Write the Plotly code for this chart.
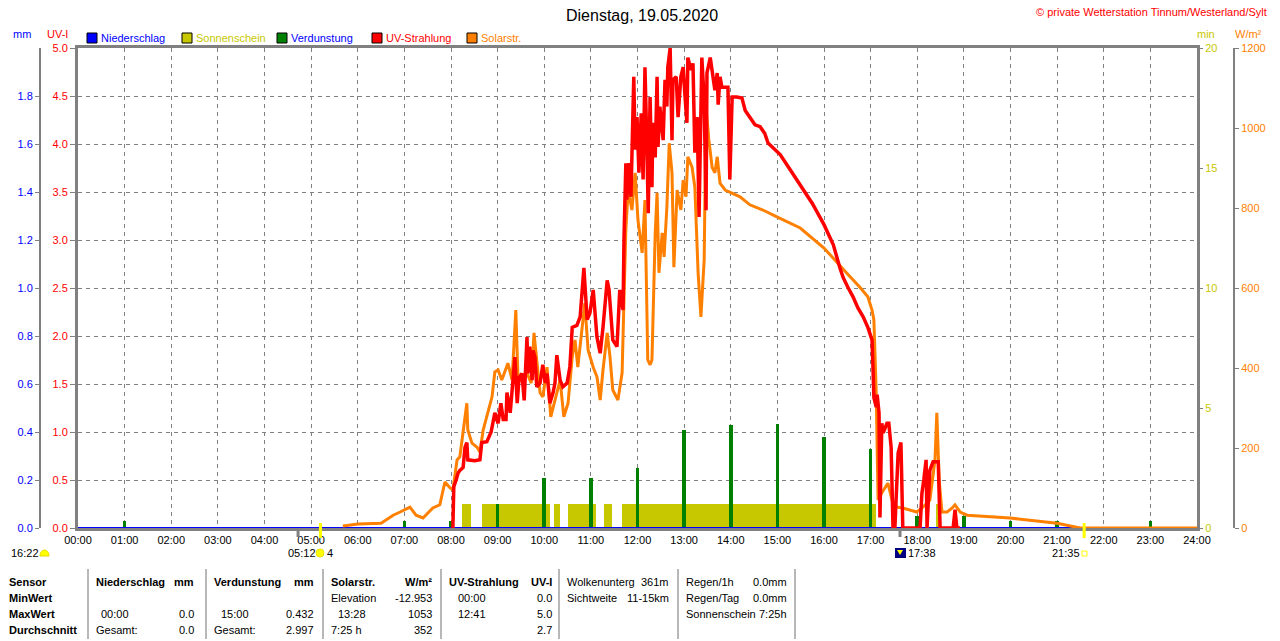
import plotly.graph_objects as go

W, H = 1280, 641
def px(x): return x / W
def py(y): return 1 - y / H

# ---------------- data ----------------
hours = list(range(25))
hour_labels = [f"{h:02d}:00" for h in hours]

uv_ticks = [0.0, 0.5, 1.0, 1.5, 2.0, 2.5, 3.0, 3.5, 4.0, 4.5, 5.0]
mm_ticks = [0.0, 0.2, 0.4, 0.6, 0.8, 1.0, 1.2, 1.4, 1.6, 1.8]
min_ticks = [0, 5, 10, 15, 20]
wm2_ticks = [0, 200, 400, 600, 800, 1000, 1200]

# UV-Strahlung (UV-I), time in hours
uv_t = [8.04, 8.06, 8.11, 8.15, 8.19, 8.26, 8.30, 8.34, 8.36, 8.51, 8.62, 8.66, 8.77, 8.86, 8.94,
        9.01, 9.07, 9.12, 9.18, 9.20, 9.27, 9.33, 9.37, 9.42, 9.46, 9.52, 9.57, 9.63, 9.65, 9.69,
        9.74, 9.76, 9.80, 9.84, 9.91, 9.97, 10.02, 10.06, 10.12, 10.19, 10.23, 10.27, 10.34, 10.40,
        10.49, 10.55, 10.60, 10.70, 10.77, 10.83, 10.85, 10.92, 10.98, 11.05, 11.13, 11.20, 11.26,
        11.35, 11.39, 11.47, 11.56, 11.62, 11.69, 11.71, 11.73, 11.75, 11.77, 11.82, 11.86, 11.90,
        11.92, 11.95, 11.99, 12.03, 12.08, 12.12, 12.16, 12.20, 12.23, 12.27, 12.31, 12.33, 12.38,
        12.42, 12.44, 12.48, 12.55, 12.59, 12.63, 12.65, 12.70, 12.74, 12.76, 12.83, 12.87, 12.93,
        12.98, 13.02, 13.06, 13.08, 13.15, 13.19, 13.23, 13.28, 13.32, 13.38, 13.43, 13.47, 13.49,
        13.56, 13.62, 13.66, 13.71, 13.73, 13.77, 13.81, 13.88, 13.94, 13.98, 14.03, 14.13, 14.24,
        14.31, 14.41, 14.52, 14.63, 14.73, 14.80, 14.95, 15.06, 15.25, 15.49, 15.75, 16.00, 16.20,
        16.34, 16.41, 16.52, 16.62, 16.73, 16.84, 16.94, 17.03, 17.05, 17.07, 17.12, 17.14, 17.18,
        17.20, 17.24, 17.27, 17.35, 17.39, 17.44, 17.48, 17.52, 17.59, 17.65, 17.69, 18.06, 18.10,
        18.14, 18.19, 18.21, 18.27, 18.34, 18.38, 18.45, 18.49, 18.77, 18.81, 18.85, 18.92]
uv_v = [0.0, 0.43, 0.50, 0.57, 0.60, 0.63, 0.84, 0.89, 0.71, 0.70, 0.71, 0.89, 0.90, 1.00, 1.20,
        1.09, 1.30, 1.13, 1.13, 1.41, 1.20, 1.54, 1.78, 1.30, 1.57, 1.61, 1.33, 1.99, 1.61, 1.89,
        1.54, 1.85, 1.78, 1.47, 1.51, 1.70, 1.51, 1.61, 1.30, 1.41, 1.51, 1.80, 1.54, 1.47,
        1.51, 1.68, 2.09, 2.11, 2.20, 2.58, 2.71, 2.17, 2.24, 2.48, 1.99, 1.82, 2.09,
        2.58, 2.48, 1.96, 1.89, 2.48, 2.27, 3.00, 3.63, 3.80, 3.42, 3.80, 3.45, 4.28,
        4.70, 3.94, 4.28, 3.70, 4.32, 3.63, 4.80, 4.01, 3.28, 4.49, 3.55, 4.22, 3.86,
        4.70, 3.97, 4.39, 4.04, 4.67, 4.39, 4.80, 5.00, 4.04, 4.67, 4.70, 4.28, 4.70,
        4.80, 4.49, 4.22, 4.90, 4.77, 4.84, 3.91, 4.28, 3.24, 4.90, 4.46, 3.31, 4.74,
        4.90, 4.70, 4.56, 4.74, 4.41, 4.70, 4.59, 4.59, 4.59, 3.63, 4.49, 4.49, 4.48,
        4.35, 4.28, 4.20, 4.18, 4.11, 4.01, 3.94, 3.89, 3.75, 3.57, 3.38, 3.16, 2.95,
        2.71, 2.61, 2.50, 2.41, 2.29, 2.20, 2.09, 1.96, 1.68, 1.36, 1.26, 1.39, 1.20,
        0.11, 1.09, 0.99, 1.09, 1.09, 0.84, 0.0, 0.0, 0.78, 0.89, 0.0, 0.0, 0.36,
        0.50, 0.71, 0.0, 0.60, 0.69, 0.69, 0.69, 0.0, 0.0, 0.19, 0.0, 0.0]

# Solarstrahlung (W/m²)
solar_t = [5.68, 6.01, 6.50, 6.76, 6.91, 6.99, 7.12, 7.25, 7.40, 7.61, 7.76, 7.87, 7.98, 8.04, 8.13,
           8.19, 8.26, 8.34, 8.36, 8.45, 8.56, 8.62, 8.69, 8.77, 8.88, 8.94, 9.01, 9.09, 9.16, 9.22,
           9.31, 9.39, 9.44, 9.52, 9.63, 9.72, 9.78, 9.84, 9.91, 9.97, 10.06, 10.14, 10.23, 10.34,
           10.42, 10.51, 10.60, 10.66, 10.72, 10.81, 10.87, 10.94, 11.05, 11.13, 11.20, 11.26, 11.35,
           11.41, 11.47, 11.58, 11.67, 11.71, 11.75, 11.80, 11.88, 11.95, 12.01, 12.10, 12.16, 12.22,
           12.27, 12.31, 12.38, 12.42, 12.46, 12.53, 12.57, 12.63, 12.68, 12.74, 12.78, 12.85, 12.93,
           12.98, 13.04, 13.08, 13.17, 13.23, 13.30, 13.36, 13.43, 13.47, 13.53, 13.60, 13.66, 13.71,
           13.77, 13.88, 13.98, 14.20, 14.41, 14.69, 14.99, 15.49, 16.00, 16.34, 16.56, 16.77, 16.94,
           17.03, 17.07, 17.12, 17.14, 17.16, 17.24, 17.31, 17.37, 17.46, 17.57, 17.69, 17.84, 17.99,
           18.12, 18.27, 18.38, 18.42, 18.47, 18.53, 18.64, 18.75, 18.81, 18.92, 19.07, 19.35, 19.99,
           21.00, 21.38, 21.49, 24.00]
solar_v = [5, 10, 12, 32, 40, 45, 52, 32, 25, 50, 58, 115, 100, 95, 170,
           178, 245, 312, 245, 212, 202, 190, 245, 278, 328, 390, 395, 370, 395, 412,
           370, 545, 362, 378, 388, 362, 488, 420, 338, 328, 402, 278, 320, 370,
           278, 312, 428, 470, 402, 502, 562, 445, 402, 378, 320, 395, 488,
           428, 345, 320, 388, 570, 745, 845, 795, 888, 770, 688, 820, 420,
           408, 420, 738, 838, 638, 738, 678, 802, 962, 888, 652, 845, 795,
           870, 828, 928, 902, 852, 638, 528, 670, 1053, 970, 902, 888, 928,
           862, 845, 840, 828, 808, 795, 778, 750, 700, 655, 628, 602, 578,
           545, 520, 338, 138, 70, 88, 102, 112, 70, 52, 50, 45, 40,
           52, 70, 170, 288, 120, 40, 40, 50, 58, 40, 32, 30, 25,
           12, 2, 0, 0]

# Sonnenschein (minutes per minute), periods of sunshine
sun_start = [8.24, 8.67, 10.21, 10.51, 11.28, 11.67, 18.40]
sun_end = [8.43, 10.12, 10.34, 11.11, 11.45, 17.12, 18.47]
sun_min = [1, 1, 1, 1, 1, 1, 1]

# Verdunstung (mm per hour)
evap_t = [1, 7, 8, 9, 10, 11, 12, 13, 14, 15, 16, 17, 18, 19, 20, 21, 23]
evap_v = [0.03, 0.03, 0.03, 0.10, 0.21, 0.21, 0.25, 0.41, 0.43, 0.432, 0.38, 0.33,
          0.05, 0.05, 0.03, 0.03, 0.03]

# Niederschlag (mm)
rain_t = hours
rain_v = [0.0] * 25

# sun / twilight marker times (hours)
twilight_times = [4.72, 17.63]
sun_times = [5.20, 21.58]

# ---------------- colours ----------------
C_BLUE = "#0000ff"
C_OLIVE = "#c8c800"
C_GREEN = "#008000"
C_RED = "#ff0000"
C_ORANGE = "#ff8000"
C_GRID = "#808080"
FONT = "Liberation Sans, Arial, sans-serif"

fig = go.Figure()

# base subplot trace (rain is 0 everywhere, so it sits on the zero line of every axis)
fig.add_trace(go.Scatter(x=rain_t, y=rain_v, yaxis="y", mode="lines",
                         line=dict(color=C_BLUE, width=2), showlegend=False, hoverinfo="skip"))
sun_c = [(a + b) / 2 for a, b in zip(sun_start, sun_end)]
sun_w = [b - a for a, b in zip(sun_start, sun_end)]
fig.add_trace(go.Bar(x=sun_c, y=sun_min, width=sun_w, yaxis="y2",
                     marker=dict(color=C_OLIVE, line=dict(width=0)), showlegend=False))
fig.add_trace(go.Bar(x=evap_t, y=evap_v, width=0.08, yaxis="y3",
                     marker=dict(color=C_GREEN, line=dict(width=0)), showlegend=False))
fig.add_trace(go.Scatter(x=rain_t, y=rain_v, yaxis="y3", mode="lines",
                         line=dict(color=C_BLUE, width=2), showlegend=False))
fig.add_trace(go.Scatter(x=solar_t, y=solar_v, yaxis="y4", mode="lines",
                         line=dict(color=C_ORANGE, width=3), showlegend=False))
fig.add_trace(go.Scatter(x=uv_t, y=uv_v, yaxis="y5", mode="lines",
                         line=dict(color=C_RED, width=3.5), showlegend=False))

ydom = [py(528), py(48)]

fig.update_layout(
    width=W, height=H, autosize=False,
    margin=dict(l=0, r=0, t=0, b=0, autoexpand=False),
    paper_bgcolor="white", plot_bgcolor="white",
    barmode="overlay", bargap=0,
    font=dict(family=FONT, size=11, color="black"),
    xaxis=dict(domain=[px(78), px(1197)], range=[0, 24], tickvals=hours, ticktext=hour_labels,
               showgrid=True, gridcolor=C_GRID, griddash="4px,4px", gridwidth=1,
               showline=True, linecolor=C_GRID, linewidth=3, mirror=True, ticks="",
               zeroline=False, tickfont=dict(family=FONT, size=11, color="black"),
               automargin=False, layer="below traces"),
    yaxis=dict(domain=ydom, range=[0, 5], tickvals=uv_ticks, ticktext=[f"{v:.1f}" for v in uv_ticks],
               showgrid=True, gridcolor=C_GRID, griddash="4px,4px", gridwidth=1,
               showline=True, linecolor=C_GRID, linewidth=3, mirror=True,
               ticks="outside", ticklen=5, tickcolor=C_GRID, zeroline=False, automargin=False,
               tickfont=dict(family=FONT, size=11, color=C_RED)),
    yaxis2=dict(overlaying="y", anchor="x", side="right", range=[0, 20], tickvals=min_ticks,
                showgrid=False, zeroline=False, showline=False, automargin=False,
                ticks="outside", ticklen=5, tickcolor=C_GRID,
                tickfont=dict(family=FONT, size=11, color=C_OLIVE)),
    yaxis3=dict(overlaying="y", anchor="free", position=px(40), side="left", range=[0, 2],
                tickvals=mm_ticks, ticktext=[f"{v:.1f}" for v in mm_ticks], automargin=False,
                showgrid=False, zeroline=False, showline=True, linecolor=C_GRID, linewidth=2,
                ticks="outside", ticklen=4, tickcolor=C_GRID,
                tickfont=dict(family=FONT, size=11, color=C_BLUE)),
    yaxis4=dict(overlaying="y", anchor="free", position=px(1234), side="right", range=[0, 1200],
                tickvals=wm2_ticks, showgrid=False, zeroline=False, showline=True, automargin=False,
                linecolor=C_GRID, linewidth=2, ticks="outside", ticklen=4, tickcolor=C_GRID,
                tickfont=dict(family=FONT, size=11, color=C_ORANGE)),
    yaxis5=dict(overlaying="y", anchor="x", range=[0, 5], visible=False),
)

ann = []
def text(x, y, s, color="black", size=11, xanchor="left", bold=False):
    ann.append(dict(x=px(x), y=py(y), xref="paper", yref="paper", text=(f"<b>{s}</b>" if bold else s),
                    showarrow=False, xanchor=xanchor, yanchor="middle",
                    font=dict(family=FONT, size=size, color=color), borderpad=0))

text(642, 15, "Dienstag, 19.05.2020", size=16, xanchor="center")
text(1268, 12, "© private Wetterstation Tinnum/Westerland/Sylt", color=C_RED, xanchor="right")
text(22, 34, "mm", color=C_BLUE, xanchor="center")
text(57, 34, "UV-I", color=C_RED, xanchor="center")
text(1206, 34, "min", color=C_OLIVE, xanchor="center")
text(1248, 34, "W/m²", color=C_ORANGE, xanchor="center")

shapes = []
legend_items = [(87, "Niederschlag", C_BLUE, C_BLUE), (182, "Sonnenschein", C_OLIVE, C_OLIVE),
                (277, "Verdunstung", C_GREEN, C_BLUE), (372, "UV-Strahlung", C_RED, C_RED),
                (467, "Solarstr.", C_ORANGE, C_ORANGE)]
for lx, name, col, tcol in legend_items:
    shapes.append(dict(type="rect", xref="paper", yref="paper", x0=px(lx), x1=px(lx + 10),
                       y0=py(43), y1=py(33), fillcolor=col, line=dict(color="black", width=1)))
    text(lx + 13, 38, name, color=tcol)

# markers under the time axis
text(10, 553, "16:22")
text(287, 553, "05:12")
text(326, 553, "4")
text(907, 553, "17:38")
text(1051, 553, "21:35")
for t in twilight_times:
    shapes.append(dict(type="line", xref="x", yref="paper", x0=t, x1=t, y0=py(537), y1=py(528),
                       line=dict(color=C_GRID, width=3)))
for t in sun_times:
    shapes.append(dict(type="line", xref="x", yref="paper", x0=t, x1=t, y0=py(538), y1=py(523),
                       line=dict(color="#ffff00", width=3)))
# icons
shapes.append(dict(type="path", xref="paper", yref="paper",
                   path=f"M {px(40)},{py(556)} C {px(40)},{py(548)} {px(49)},{py(548)} {px(49)},{py(556)} Z",
                   fillcolor="#ffff00", line=dict(color="#e8d800", width=1)))
shapes.append(dict(type="circle", xref="paper", yref="paper", x0=px(316), x1=px(324),
                   y0=py(557), y1=py(549), fillcolor="#ffff00", line=dict(color="#f0e000", width=1)))
shapes.append(dict(type="rect", xref="paper", yref="paper", x0=px(895), x1=px(906),
                   y0=py(558), y1=py(548), fillcolor="#000080", line=dict(width=0)))
shapes.append(dict(type="path", xref="paper", yref="paper",
                   path=f"M {px(897)},{py(550)} L {px(903)},{py(550)} L {px(900)},{py(555)} Z",
                   fillcolor="#ffff00", line=dict(width=0)))
shapes.append(dict(type="rect", xref="paper", yref="paper", x0=px(1082), x1=px(1087),
                   y0=py(556), y1=py(551), fillcolor="rgba(0,0,0,0)", line=dict(color="#ffff00", width=1)))

# bottom table
for sx in [88, 206, 323, 441, 559, 678, 795]:
    shapes.append(dict(type="line", xref="paper", yref="paper", x0=px(sx), x1=px(sx),
                       y0=py(569), y1=py(639), line=dict(color="#a0a0a0", width=1.5)))

rows = [582, 598, 614, 630]
table = [
    (0, 8, "Sensor", "left", True), (0, 95, "Niederschlag", "left", True), (0, 195, "mm", "right", True),
    (0, 213, "Verdunstung", "left", True), (0, 315, "mm", "right", True),
    (0, 330, "Solarstr.", "left", True), (0, 433, "W/m²", "right", True),
    (0, 448, "UV-Strahlung", "left", True), (0, 553, "UV-I", "right", True),
    (0, 566, "Wolkenunterg", "left", False), (0, 670, "361m", "right", False),
    (0, 685, "Regen/1h", "left", False), (0, 788, "0.0mm", "right", False),
    (1, 8, "MinWert", "left", True), (1, 330, "Elevation", "left", False), (1, 433, "-12.953", "right", False),
    (1, 457, "00:00", "left", False), (1, 553, "0.0", "right", False),
    (1, 566, "Sichtweite", "left", False), (1, 670, "11-15km", "right", False),
    (1, 685, "Regen/Tag", "left", False), (1, 788, "0.0mm", "right", False),
    (2, 8, "MaxWert", "left", True), (2, 100, "00:00", "left", False), (2, 195, "0.0", "right", False),
    (2, 220, "15:00", "left", False), (2, 315, "0.432", "right", False),
    (2, 337, "13:28", "left", False), (2, 433, "1053", "right", False),
    (2, 457, "12:41", "left", False), (2, 553, "5.0", "right", False),
    (2, 685, "Sonnenschein", "left", False), (2, 788, "7:25h", "right", False),
    (3, 8, "Durchschnitt", "left", True), (3, 95, "Gesamt:", "left", False), (3, 195, "0.0", "right", False),
    (3, 213, "Gesamt:", "left", False), (3, 315, "2.997", "right", False),
    (3, 330, "7:25 h", "left", False), (3, 433, "352", "right", False),
    (3, 553, "2.7", "right", False),
]
for r, x, s, anc, b in table:
    text(x, rows[r], s, xanchor=anc, bold=b)

fig.update_layout(annotations=ann, shapes=shapes)

fig.write_html("out.html", config={"displayModeBar": False},
               post_script="document.body.style.margin='0';document.body.style.overflow='hidden';")
